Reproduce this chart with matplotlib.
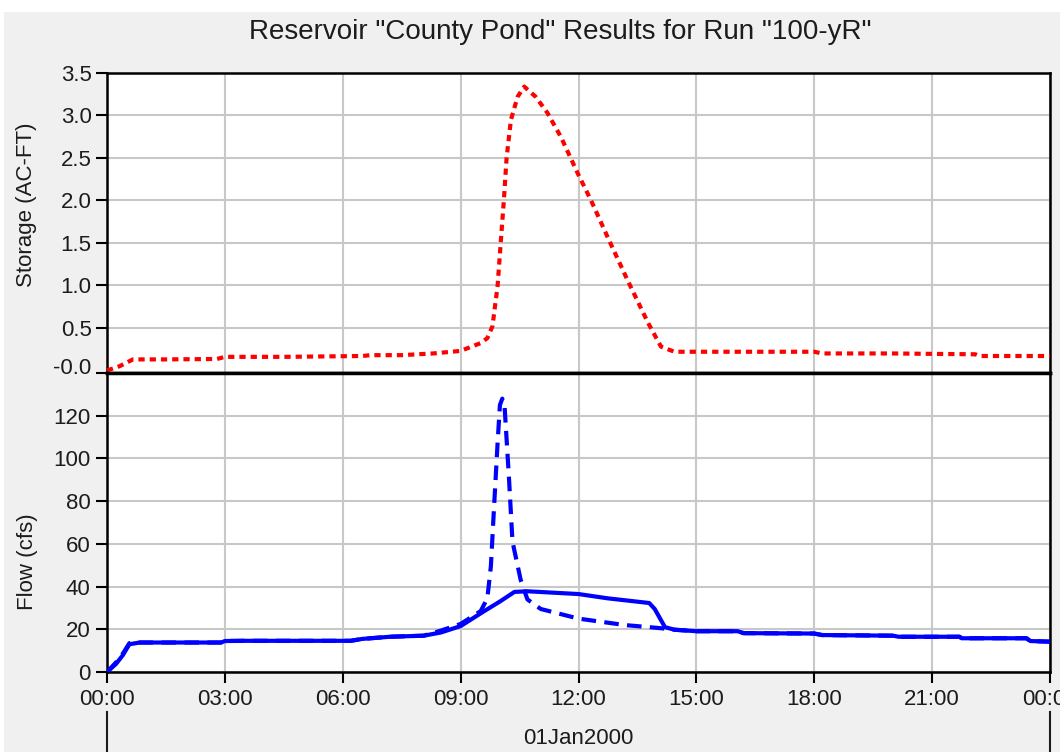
import matplotlib.pyplot as plt
import matplotlib.transforms as mtransforms
from matplotlib.patches import Rectangle

# storage (AC-FT), hours after 00:00 01Jan2000
stor_hours = [0, 0.32, 0.66, 1.5, 2.8, 3.0, 4.5, 6.5, 6.7, 7.5, 8.3, 9.0, 9.5, 9.68,
              9.81, 9.94, 10.02, 10.1, 10.17, 10.28, 10.45, 10.62, 10.91, 11.21, 11.55,
              11.98, 12.32, 12.74, 13.25, 13.77, 14.1, 14.44, 15.0, 16.0, 18.0, 18.2,
              20.0, 22.1, 22.2, 24.0]
stor_vals = [0.0, 0.05, 0.13, 0.13, 0.135, 0.16, 0.16, 0.17, 0.18, 0.18, 0.2, 0.23, 0.32, 0.38,
             0.52, 0.99, 1.5, 2.0, 2.5, 2.95, 3.22, 3.34, 3.22, 3.03, 2.75,
             2.32, 2.0, 1.57, 1.06, 0.56, 0.28, 0.22, 0.22, 0.22, 0.22, 0.2,
             0.2, 0.19, 0.17, 0.17]

# outflow (cfs), solid
out_hours = [0, 0.23, 0.4, 0.57, 0.83, 2.9, 3.0, 3.47, 6.2, 6.5, 7.2, 8.06, 8.5, 9.0,
             9.6, 10.0, 10.37, 10.7, 12.0, 12.74, 13.8, 13.94, 14.2, 14.44, 15.0,
             16.05, 16.2, 18.0, 18.2, 20.0, 20.15, 21.7, 21.75, 23.4, 23.5, 24.0]
out_vals = [0, 3.8, 7.8, 13.0, 13.8, 13.8, 14.5, 14.6, 14.6, 15.5, 16.5, 17.0, 18.5, 21.5,
            28.5, 33.0, 37.5, 37.8, 36.5, 34.5, 32.3, 29.5, 21.0, 19.8, 19.1,
            19.1, 18.2, 18.0, 17.3, 17.0, 16.5, 16.5, 15.8, 15.8, 14.5, 14.2]

# inflow (cfs), dashed
in_hours = [0, 0.23, 0.4, 0.57, 0.83, 2.9, 3.0, 3.47, 6.2, 6.5, 7.2, 8.06, 8.5, 9.0,
            9.51, 9.68, 9.77, 9.85, 9.94, 10.0, 10.06, 10.12, 10.23, 10.32, 10.53, 10.7,
            11.04, 12.0, 13.17, 14.1, 14.44, 15.0, 16.05, 16.2, 18.0, 18.2, 20.0,
            20.15, 21.7, 21.75, 23.4, 23.5, 24.0]
in_vals = [0, 4.5, 8.5, 13.5, 13.8, 13.8, 14.5, 14.6, 14.6, 15.5, 16.5, 17.0, 19.4, 22.5,
           28.5, 34.5, 49.5, 77, 107, 125, 128, 124, 91, 61, 43, 34,
           29.5, 25.0, 22.0, 20.5, 19.8, 19.1, 19.1, 18.2, 18.0, 17.3, 17.0,
           16.5, 16.5, 15.8, 15.8, 14.5, 14.2]

hour_ticks = [0, 3, 6, 9, 12, 15, 18, 21, 24]
hour_labels = ['00:00', '03:00', '06:00', '09:00', '12:00', '15:00', '18:00', '21:00', '00:00']
stor_ticks = [3.5, 3.0, 2.5, 2.0, 1.5, 1.0, 0.5]
flow_ticks = [0, 20, 40, 60, 80, 100, 120]

plt.rcParams['font.family'] = ['Liberation Sans', 'DejaVu Sans']
txt = '#1c1c1c'
grid_c = '#c8c8c8'

W, H = 1060, 752
fig = plt.figure(figsize=(W / 100, H / 100), dpi=100, facecolor='#f0f0f0')
# thin white strip at top / left like the screenshot
fig.patches.append(Rectangle((0, 1 - 12 / H), 1, 12 / H, transform=fig.transFigure,
                             facecolor='white', edgecolor='none', zorder=-5))
fig.patches.append(Rectangle((0, 0), 4 / W, 1, transform=fig.transFigure,
                             facecolor='white', edgecolor='none', zorder=-5))

left, right = 107 / W, 1050 / W
ax1 = fig.add_axes([left, 1 - 373 / H, right - left, (373 - 73) / H])
ax2 = fig.add_axes([left, 1 - 672 / H, right - left, (672 - 373) / H])

############################
# storage panel
###########################
ax1.plot(stor_hours, stor_vals, color='red', lw=3, linestyle=(0, (1.5, 1.2)),
         solid_capstyle='butt', zorder=3)
ax1.set_xlim(0, 24)
ax1.set_ylim(-0.03, 3.5)
ax1.set_xticks(hour_ticks)
ax1.tick_params(axis='x', length=0, labelbottom=False)
ax1.set_yticks(stor_ticks + [-0.03])
ax1.set_yticklabels(['%.1f' % v for v in stor_ticks] + ['-0.0'])
ax1.tick_params(axis='y', direction='out', length=8, width=1.5, pad=3,
                labelsize=16, labelcolor=txt)
# the -0.0 label sits a bit above the bottom line
lab = ax1.get_yticklabels()[-1]
lab.set_transform(lab.get_transform() + mtransforms.ScaledTranslation(0, 7 / 100, fig.dpi_scale_trans))
ax1.grid(True, color=grid_c, lw=1.5)
ax1.set_axisbelow(True)

############################
# flow panel
###########################
ax2.plot(out_hours, out_vals, color='blue', lw=3, zorder=3)
ax2.plot(in_hours, in_vals, color='blue', lw=3, linestyle=(0, (3.5, 2)), zorder=3)
ax2.set_xlim(0, 24)
ax2.set_ylim(0, 140)
ax2.set_yticks(flow_ticks)
ax2.set_xticks(hour_ticks)
ax2.set_xticklabels(hour_labels)
ax2.tick_params(axis='both', direction='out', length=8, width=1.5, pad=4,
                labelsize=16, labelcolor=txt)
ax2.grid(True, color=grid_c, lw=1.5)
ax2.set_axisbelow(True)

for ax in (ax1, ax2):
    for s in ax.spines.values():
        s.set_color('black')
        s.set_linewidth(1.8)
ax1.spines['bottom'].set_linewidth(2.5)
ax2.spines['top'].set_linewidth(2.5)

# date line below the hour labels
trans = mtransforms.blended_transform_factory(ax2.transData, fig.transFigure)
for h in (0, 24):
    ax2.plot([h, h], [0, 1 - 712 / H], color=txt, lw=1.5, transform=trans, clip_on=False)
fig.text((left + right) / 2, 1 - 738 / H, '01Jan2000', ha='center', va='center',
         fontsize=16, color=txt)

fig.text(560 / W, 1 - 32 / H, 'Reservoir "County Pond" Results for Run "100-yR"',
         ha='center', va='center', fontsize=20, color=txt)
fig.text(27 / W, 1 - 205 / H, 'Storage (AC-FT)', rotation=90, ha='center', va='center',
         fontsize=16, color=txt)
fig.text(27 / W, 1 - 562 / H, 'Flow (cfs)', rotation=90, ha='center', va='center',
         fontsize=16, color=txt)

fig.savefig('out.png', dpi=100, facecolor=fig.get_facecolor())
